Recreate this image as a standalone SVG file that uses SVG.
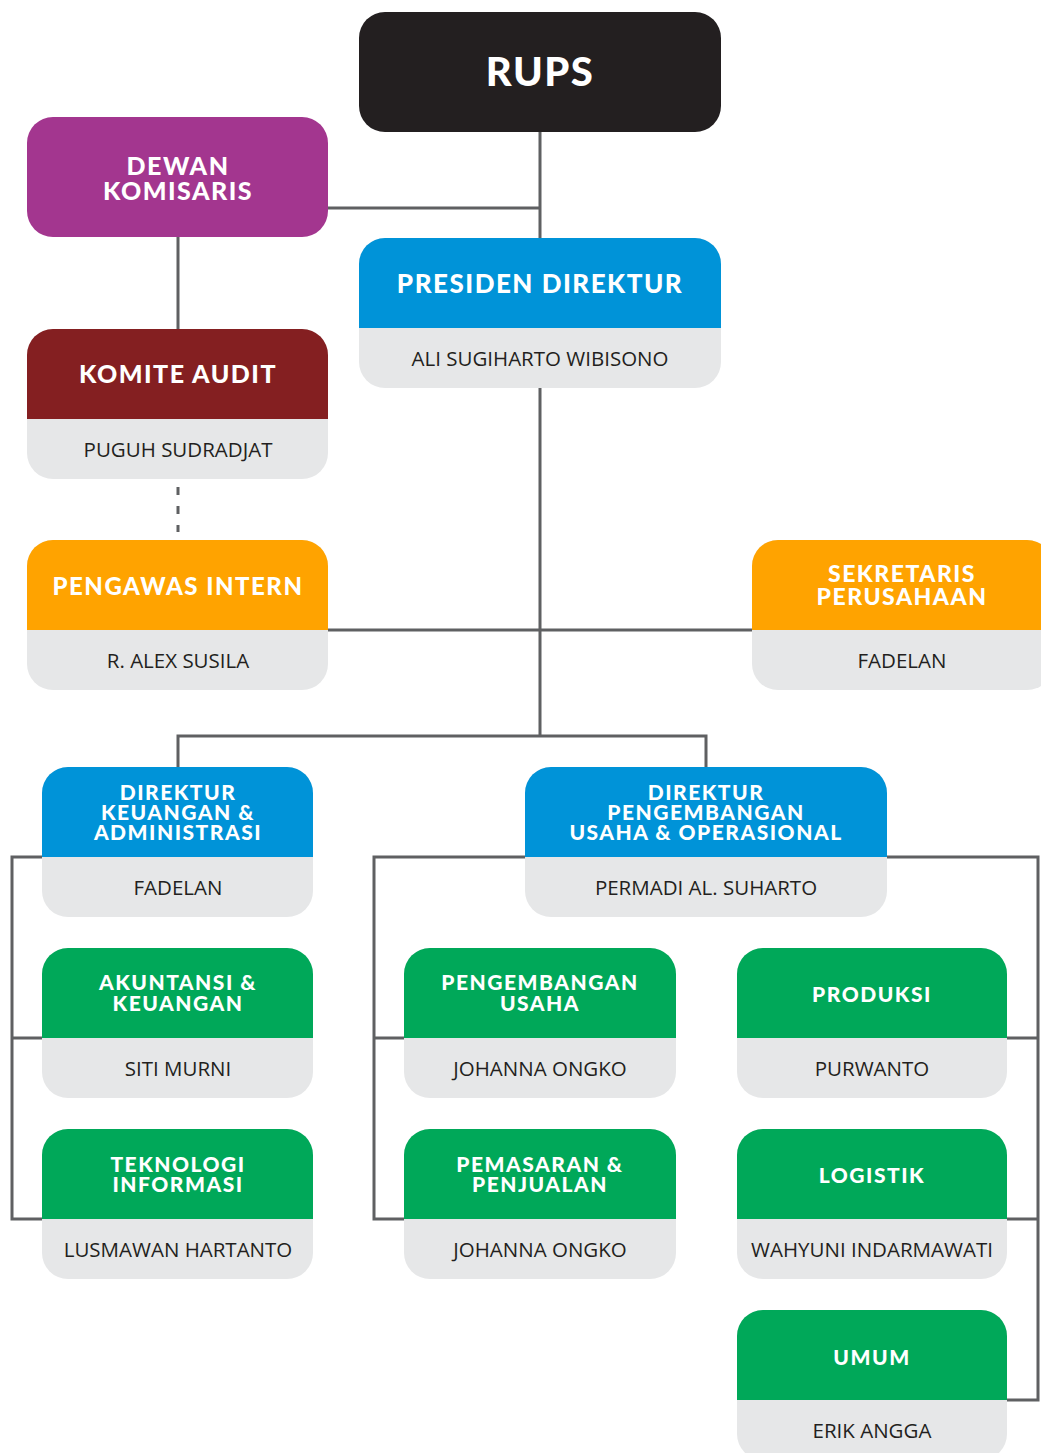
<svg xmlns="http://www.w3.org/2000/svg" width="1041" height="1453" viewBox="0 0 1041 1453">
<style>
.ln{fill:none;stroke:#5f6062;stroke-width:3}
.gr{fill:#e6e7e8}
.t{font-family:Lato,"Liberation Sans",sans-serif;font-weight:900;fill:#fff;text-anchor:middle;letter-spacing:1.5px}
.n{font-family:"Open Sans","Liberation Sans",sans-serif;font-size:20.5px;fill:#231f20;text-anchor:middle}
.blue{fill:#0093d8}.green{fill:#00a859}.orange{fill:#ffa300}
</style>
<rect width="1041" height="1453" fill="#fff"/>
<g id="connectors">
<path class="ln" d="M540 132V238M328 208H540M178 237V329M540 388V736M328 630H752M178 767V736H706V767"/>
<path class="ln" d="M178 487V532" stroke-dasharray="8 11"/>
<path class="ln" d="M42 857H12V1219H42M12 1038H42"/>
<path class="ln" d="M525 857H374V1219H404M374 1038H404"/>
<path class="ln" d="M887 857H1038V1400H1007M1007 1038H1038M1007 1219H1038"/>
</g>
<g id="rups">
<rect x="359" y="12" width="362" height="120" rx="26" fill="#231f20"/>
<text class="t" x="540" y="86" font-size="40">RUPS</text>
</g>
<g id="dewan-komisaris">
<rect x="27" y="117" width="301" height="120" rx="26" fill="#a3368f"/>
<text class="t" x="178" y="175" font-size="25">DEWAN<tspan x="178" dy="25">KOMISARIS</tspan></text>
</g>
<g id="presiden-direktur">
<rect class="gr" x="359" y="238" width="362" height="150" rx="26"/>
<path class="blue" d="M359 328V264a26 26 0 0 1 26-26H695a26 26 0 0 1 26 26V328Z"/>
<text class="t" x="540" y="293" font-size="26">PRESIDEN DIREKTUR</text>
<text class="n" x="540" y="366">ALI SUGIHARTO WIBISONO</text>
</g>
<g id="komite-audit">
<rect class="gr" x="27" y="329" width="301" height="150" rx="26"/>
<path fill="#841f21" d="M27 419V355a26 26 0 0 1 26-26H302a26 26 0 0 1 26 26V419Z"/>
<text class="t" x="178" y="383" font-size="25">KOMITE AUDIT</text>
<text class="n" x="178" y="457">PUGUH SUDRADJAT</text>
</g>
<g id="pengawas-intern">
<rect class="gr" x="27" y="540" width="301" height="150" rx="26"/>
<path class="orange" d="M27 630V566a26 26 0 0 1 26-26H302a26 26 0 0 1 26 26V630Z"/>
<text class="t" x="178" y="595" font-size="24">PENGAWAS INTERN</text>
<text class="n" x="178" y="668">R. ALEX SUSILA</text>
</g>
<g id="sekretaris-perusahaan">
<rect class="gr" x="752" y="540" width="301" height="150" rx="26"/>
<path class="orange" d="M752 630V566a26 26 0 0 1 26-26H1027a26 26 0 0 1 26 26V630Z"/>
<text class="t" x="902" y="582" font-size="23">SEKRETARIS<tspan x="902" dy="23">PERUSAHAAN</tspan></text>
<text class="n" x="902" y="668">FADELAN</text>
</g>
<g id="direktur-keuangan">
<rect class="gr" x="42" y="767" width="271" height="150" rx="26"/>
<path class="blue" d="M42 857V793a26 26 0 0 1 26-26H287a26 26 0 0 1 26 26V857Z"/>
<text class="t" x="178" y="800" font-size="21">DIREKTUR<tspan x="178" dy="20">KEUANGAN &amp;</tspan><tspan x="178" dy="20">ADMINISTRASI</tspan></text>
<text class="n" x="178" y="895">FADELAN</text>
</g>
<g id="direktur-pengembangan">
<rect class="gr" x="525" y="767" width="362" height="150" rx="26"/>
<path class="blue" d="M525 857V793a26 26 0 0 1 26-26H861a26 26 0 0 1 26 26V857Z"/>
<text class="t" x="706" y="800" font-size="21">DIREKTUR<tspan x="706" dy="20">PENGEMBANGAN</tspan><tspan x="706" dy="20">USAHA &amp; OPERASIONAL</tspan></text>
<text class="n" x="706" y="895">PERMADI AL. SUHARTO</text>
</g>
<g id="akuntansi-keuangan">
<rect class="gr" x="42" y="948" width="271" height="150" rx="26"/>
<path class="green" d="M42 1038V974a26 26 0 0 1 26-26H287a26 26 0 0 1 26 26V1038Z"/>
<text class="t" x="178" y="990" font-size="21">AKUNTANSI &amp;<tspan x="178" dy="21">KEUANGAN</tspan></text>
<text class="n" x="178" y="1076">SITI MURNI</text>
</g>
<g id="teknologi-informasi">
<rect class="gr" x="42" y="1129" width="271" height="150" rx="26"/>
<path class="green" d="M42 1219V1155a26 26 0 0 1 26-26H287a26 26 0 0 1 26 26V1219Z"/>
<text class="t" x="178" y="1172" font-size="21">TEKNOLOGI<tspan x="178" dy="20">INFORMASI</tspan></text>
<text class="n" x="178" y="1257">LUSMAWAN HARTANTO</text>
</g>
<g id="pengembangan-usaha">
<rect class="gr" x="404" y="948" width="272" height="150" rx="26"/>
<path class="green" d="M404 1038V974a26 26 0 0 1 26-26H650a26 26 0 0 1 26 26V1038Z"/>
<text class="t" x="540" y="990" font-size="21">PENGEMBANGAN<tspan x="540" dy="21">USAHA</tspan></text>
<text class="n" x="540" y="1076">JOHANNA ONGKO</text>
</g>
<g id="pemasaran-penjualan">
<rect class="gr" x="404" y="1129" width="272" height="150" rx="26"/>
<path class="green" d="M404 1219V1155a26 26 0 0 1 26-26H650a26 26 0 0 1 26 26V1219Z"/>
<text class="t" x="540" y="1172" font-size="21">PEMASARAN &amp;<tspan x="540" dy="20">PENJUALAN</tspan></text>
<text class="n" x="540" y="1257">JOHANNA ONGKO</text>
</g>
<g id="produksi">
<rect class="gr" x="737" y="948" width="270" height="150" rx="26"/>
<path class="green" d="M737 1038V974a26 26 0 0 1 26-26H981a26 26 0 0 1 26 26V1038Z"/>
<text class="t" x="872" y="1002" font-size="21">PRODUKSI</text>
<text class="n" x="872" y="1076">PURWANTO</text>
</g>
<g id="logistik">
<rect class="gr" x="737" y="1129" width="270" height="150" rx="26"/>
<path class="green" d="M737 1219V1155a26 26 0 0 1 26-26H981a26 26 0 0 1 26 26V1219Z"/>
<text class="t" x="872" y="1183" font-size="21">LOGISTIK</text>
<text class="n" x="872" y="1257">WAHYUNI INDARMAWATI</text>
</g>
<g id="umum">
<rect class="gr" x="737" y="1310" width="270" height="150" rx="26"/>
<path class="green" d="M737 1400V1336a26 26 0 0 1 26-26H981a26 26 0 0 1 26 26V1400Z"/>
<text class="t" x="872" y="1365" font-size="21">UMUM</text>
<text class="n" x="872" y="1438">ERIK ANGGA</text>
</g>
</svg>
